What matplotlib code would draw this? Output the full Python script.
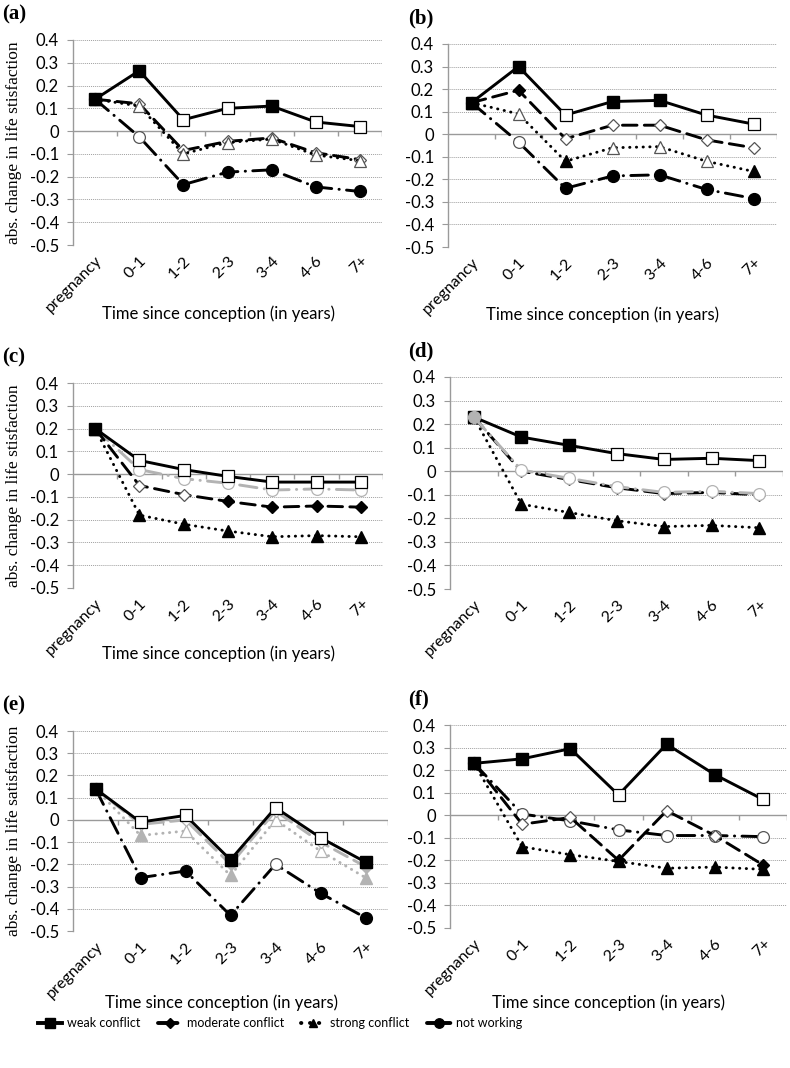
import numpy as np
import matplotlib.pyplot as plt
from matplotlib.lines import Line2D

cats = ['pregnancy', '0-1', '1-2', '2-3', '3-4', '4-6', '7+']

# values per panel (weak / moderate / strong conflict, not working)
weak_a = [0.14, 0.265, 0.05, 0.10, 0.11, 0.04, 0.02]
mod_a = [0.14, 0.12, -0.085, -0.045, -0.03, -0.095, -0.125]
strong_a = [0.14, 0.11, -0.10, -0.05, -0.035, -0.105, -0.13]
notw_a = [0.14, -0.025, -0.235, -0.18, -0.17, -0.245, -0.265]

weak_b = [0.14, 0.30, 0.085, 0.145, 0.15, 0.085, 0.045]
mod_b = [0.14, 0.195, -0.02, 0.04, 0.04, -0.025, -0.06]
strong_b = [0.14, 0.09, -0.12, -0.06, -0.055, -0.12, -0.165]
notw_b = [0.14, -0.035, -0.24, -0.185, -0.18, -0.245, -0.285]

weak_c = [0.20, 0.06, 0.02, -0.01, -0.035, -0.035, -0.035]
mod_c = [0.20, -0.05, -0.09, -0.12, -0.145, -0.14, -0.145]
strong_c = [0.20, -0.18, -0.22, -0.25, -0.275, -0.27, -0.275]
notw_c = [0.20, 0.02, -0.02, -0.04, -0.07, -0.065, -0.07]

weak_d = [0.23, 0.145, 0.11, 0.075, 0.05, 0.055, 0.045]
mod_d = [0.23, 0.0, -0.035, -0.07, -0.095, -0.09, -0.10]
strong_d = [0.23, -0.14, -0.175, -0.21, -0.235, -0.23, -0.24]
notw_d = [0.23, 0.005, -0.03, -0.065, -0.09, -0.085, -0.095]

weak_e = [0.14, -0.01, 0.02, -0.18, 0.055, -0.08, -0.19]
mod_e = [0.14, -0.02, 0.0, -0.20, 0.04, -0.10, -0.21]
strong_e = [0.14, -0.07, -0.05, -0.25, 0.0, -0.14, -0.26]
notw_e = [0.14, -0.26, -0.23, -0.43, -0.20, -0.33, -0.44]

weak_f = [0.23, 0.25, 0.295, 0.09, 0.315, 0.18, 0.07]
mod_f = [0.23, -0.04, -0.01, -0.20, 0.02, -0.09, -0.22]
strong_f = [0.23, -0.14, -0.175, -0.205, -0.235, -0.23, -0.24]
notw_f = [0.23, 0.005, -0.025, -0.065, -0.09, -0.09, -0.095]

# 1 = filled marker, 0 = open marker
fill_a = ['1100100', '1000000', '1000000', '1011111']
fill_b = ['1101100', '1100000', '1010001', '1011111']
fill_c = ['1000000', '1001111', '1111111', '1000000']
fill_d = ['1110000', '1000000', '1111111', '1000000']
fill_e = ['1001001', '1001001', '1101001', '1111011']
fill_f = ['1110110', '1001001', '1111111', '1000000']

names = ['weak conflict', 'moderate conflict', 'strong conflict', 'not working']

GRAY = '#b3b3b3'
styles = {
    'weak': dict(ls='-', marker='s', ms=9),
    'mod': dict(ls=(0, (5, 2.5)), marker='D', ms=6.5),
    'strong': dict(ls=(0, (0.1, 2.2)), marker='^', ms=8),
    'notw': dict(ls=(0, (6, 2.5, 0.1, 2.5)), marker='o', ms=8.5),
}

# label, pixel box [left, right, y of 0.4, y of -0.5], data, fills, colours, ylabel, xlabel top px, draw order
panels = [
    ('(a)', [73, 382, 40, 245], [weak_a, mod_a, strong_a, notw_a], fill_a,
     ['k', 'k', 'k', 'k'], 'abs. change in life stisfaction', 305, ['notw', 'mod', 'strong', 'weak']),
    ('(b)', [448, 777, 44, 247], [weak_b, mod_b, strong_b, notw_b], fill_b,
     ['k', 'k', 'k', 'k'], None, 306, ['notw', 'strong', 'mod', 'weak']),
    ('(c)', [73, 383, 383, 588], [weak_c, mod_c, strong_c, notw_c], fill_c,
     ['k', 'k', 'k', GRAY], 'abs. change in life stisfaction', 645, ['notw', 'strong', 'mod', 'weak']),
    ('(d)', [450, 783, 377, 589], [weak_d, mod_d, strong_d, notw_d], fill_d,
     ['k', 'k', 'k', GRAY], None, None, ['weak', 'strong', 'mod', 'notw']),
    ('(e)', [73, 388, 731, 931], [weak_e, mod_e, strong_e, notw_e], fill_e,
     ['k', GRAY, GRAY, 'k'], 'abs. change in life satisfaction', 994, ['notw', 'strong', 'mod', 'weak']),
    ('(f)', [450, 787, 725, 928], [weak_f, mod_f, strong_f, notw_f], fill_f,
     ['k', 'k', 'k', 'k'], None, 994, ['notw', 'strong', 'mod', 'weak']),
]

W, H = 790, 1068
fig = plt.figure(figsize=(W / 100, H / 100), dpi=100)
tickfont = 'Lato'
keys = ['weak', 'mod', 'strong', 'notw']

for label, (x0, x1, y0, y1), series, fills, colors, ylab, xlab_top, order in panels:
    ax = fig.add_axes([x0 / W, 1 - y1 / H, (x1 - x0) / W, (y1 - y0) / H])
    ax.set_xlim(-0.5, 6.5)
    ax.set_ylim(-0.5, 0.4)
    x = np.arange(len(cats))
    for k in order:
        i = keys.index(k)
        vals = np.array(series[i])
        c = colors[i]
        st = styles[k]
        z = 3 + order.index(k)
        ax.plot(x, vals, color=c, ls=st['ls'], lw=2.1, dash_capstyle='round', zorder=z)
        f = np.array([ch == '1' for ch in fills[i]])
        ax.plot(x[f], vals[f], ls='none', marker=st['marker'], ms=st['ms'],
                mfc=c, mec=c, mew=1, zorder=z + 0.5)
        edge = 'k' if k == 'weak' else ('#555555' if c == 'k' else GRAY)
        ax.plot(x[~f], vals[~f], ls='none', marker=st['marker'], ms=st['ms'],
                mfc='white', mec=edge, mew=0.9, zorder=z + 0.5)
    # excel-like grid and category axis at zero
    for gy in np.arange(-0.5, 0.45, 0.1):
        if abs(gy) > 1e-9:
            ax.axhline(gy, color='#a0a0a0', lw=0.7, ls=(0, (1, 1)), zorder=1)
    ax.axhline(0, color='#9a9a9a', lw=1.0, zorder=2)
    ax.vlines(np.arange(0.5, 6.6, 1), -0.022, 0, color='#9a9a9a', lw=1.0, zorder=2)
    for s in ['top', 'right', 'bottom']:
        ax.spines[s].set_visible(False)
    ax.spines['left'].set_color('#9a9a9a')
    ax.spines['left'].set_linewidth(1.0)
    ax.set_yticks(np.round(np.arange(-0.5, 0.45, 0.1), 1))
    ax.set_yticklabels(['-0.5', '-0.4', '-0.3', '-0.2', '-0.1', '0', '0.1', '0.2', '0.3', '0.4'],
                       fontsize=12, family=tickfont)
    ax.tick_params(axis='y', length=4, color='#9a9a9a', pad=6)
    ax.set_xticks(x)
    ax.set_xticklabels(cats, rotation=45, ha='right', rotation_mode='anchor',
                       fontsize=11.5, family=tickfont)
    ax.tick_params(axis='x', length=0, pad=6)
    if ylab:
        ax.set_ylabel(ylab, family='Liberation Serif', fontsize=12.5)
        ax.yaxis.set_label_coords((22 - x0) / (x1 - x0), 0.5)
    if xlab_top:
        ax.set_xlabel('Time since conception (in years)', family=tickfont, fontsize=12)
        ax.xaxis.set_label_coords(0.47, (y1 - xlab_top) / (y1 - y0))
    lx = 2 if x0 < 200 else 408
    fig.text(lx / W, 1 - (y0 - 26) / H, label, family='Liberation Serif', fontweight='bold',
             fontsize=15, va='center', ha='left')

handles = []
for k in keys:
    st = styles[k]
    handles.append(Line2D([], [], color='k', ls=st['ls'], lw=2.8, marker=st['marker'],
                          ms=st['ms'] * 0.8, mfc='k', mec='k', dash_capstyle='round'))
fig.legend(handles, names, loc='center', bbox_to_anchor=(280 / W, 1 - 1023 / H), ncol=4,
           frameon=False, prop={'family': tickfont, 'size': 9},
           handlelength=1.9, columnspacing=1.4, handletextpad=0.4)

fig.savefig('out.png', dpi=100)
